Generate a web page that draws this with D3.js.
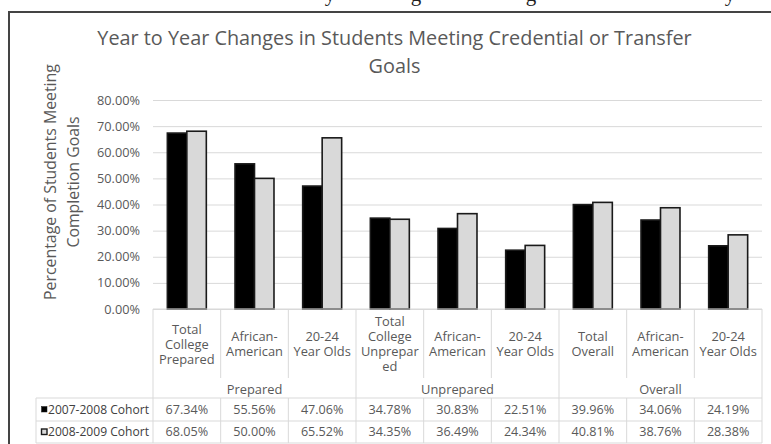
<!DOCTYPE html>
<html><head><meta charset="utf-8">
<script src="https://cdn.jsdelivr.net/npm/d3@7"></script>
<style>body{margin:0;background:#fff}svg{display:block}</style>
</head><body>
<script>
// ---- data ----
const titleLines = ["Year to Year Changes in Students Meeting Credential or Transfer", "Goals"];
const yTitleLines = ["Percentage of Students Meeting", "Completion Goals"];
const groups = ["Prepared", "Unprepared", "Overall"];
const groupSizes = [3, 3, 3];
const categories = ["Total\nCollege\nPrepared", "African-\nAmerican", "20-24\nYear Olds",
  "Total\nCollege\nUnprepar\ned", "African-\nAmerican", "20-24\nYear Olds",
  "Total\nOverall", "African-\nAmerican", "20-24\nYear Olds"];
const seriesNames = ["2007-2008 Cohort", "2008-2009 Cohort"];
const cohort2007 = [67.34, 55.56, 47.06, 34.78, 30.83, 22.51, 39.96, 34.06, 24.19];
const cohort2008 = [68.05, 50.00, 65.52, 34.35, 36.49, 24.34, 40.81, 38.76, 28.38];
const yTicks = [0, 10, 20, 30, 40, 50, 60, 70, 80];
const clippedTextAbove = ["y", "g", "g", "y"];

// ---- layout ----
const W = 771, H = 444;
const FONT = "'Open Sans', 'Noto Sans', sans-serif";
const L = {left: 153, right: 762, y0: 309, yTop: 100, frameX: 9, frameY: 12,
  tableLeft: 36, headerInnerEnd: 378, groupRowY: 389, rowTops: [398, 421], bottom: 443,
  labelCenterY: 344, lineH: 15};
const fragX = [330, 416, 531, 730];

const svg = d3.select("body").append("svg").attr("width", W).attr("height", H);

function measure(text, size, family) {
  const t = svg.append("text").attr("font-family", family).attr("font-size", size).text(text);
  const w = t.node().getComputedTextLength();
  t.remove();
  return w;
}
function fit(text, target, family = FONT) {
  return 100 * target / measure(text, 100, family);
}

const titleSize = fit(titleLines[0], 595);
const tickSize = fit("80.00%", 43);
const yTitleSize = fit(yTitleLines[0], 236);
const catSize = fit("American", 57);
const valSize = fit("67.34%", 42.6);
const legSize = fit(seriesNames[0], 101);

// clipped line of document text above the chart
svg.append("g").selectAll("text").data(clippedTextAbove).join("text")
  .attr("x", (d, i) => fragX[i]).attr("y", 1)
  .attr("text-anchor", "middle")
  .attr("font-family", "'Liberation Serif', serif").attr("font-size", 21)
  .attr("fill", "#222").text(d => d);

// frame
svg.append("rect").attr("x", L.frameX).attr("y", L.frameY)
  .attr("width", 900).attr("height", 900)
  .attr("fill", "#fff").attr("stroke", "#444").attr("stroke-width", 2);

// title
svg.append("g").selectAll("text").data(titleLines).join("text")
  .attr("x", 394.5).attr("y", (d, i) => 45 + i * 28)
  .attr("text-anchor", "middle").attr("font-family", FONT)
  .attr("font-size", titleSize).attr("fill", "#595959").text(d => d);

// scales
const x = d3.scaleBand().domain(d3.range(categories.length))
  .range([L.left, L.right]).paddingInner(0.424).paddingOuter(0.212);
const x1 = d3.scaleBand().domain([0, 1]).range([0, x.bandwidth()]);
const y = d3.scaleLinear().domain([0, 80]).range([L.y0, L.yTop]);

// gridlines + tick labels
const ax = svg.append("g").attr("transform", `translate(${L.left},0)`)
  .call(d3.axisLeft(y).tickValues(yTicks).tickSize(-(L.right - L.left)).tickPadding(13)
    .tickFormat(d => d3.format(".2f")(d) + "%"));
ax.select(".domain").remove();
ax.selectAll(".tick line").attr("stroke", "#d9d9d9").attr("stroke-width", 1);
ax.selectAll(".tick text").attr("font-family", FONT).attr("font-size", tickSize)
  .attr("fill", "#595959");

// y title
svg.append("g").selectAll("text").data(yTitleLines).join("text")
  .attr("transform", (d, i) => `translate(${50 + i * 23},182) rotate(-90)`)
  .attr("text-anchor", "middle").attr("dy", "0.35em")
  .attr("font-family", FONT).attr("font-size", yTitleSize).attr("fill", "#595959")
  .text(d => d);

// bars
const series = [cohort2007, cohort2008];
const fills = ["#000000", "#d9d9d9"];
series.forEach((vals, s) => {
  svg.append("g").selectAll("rect").data(vals).join("rect")
    .attr("x", (d, i) => x(i) + x1(s)).attr("y", d => y(d))
    .attr("width", x1.bandwidth()).attr("height", d => y(0) - y(d))
    .attr("fill", fills[s]).attr("stroke", "#1a1a1a").attr("stroke-width", 1.6);
});

// ---- data table ----
const tg = svg.append("g").attr("stroke", "#d9d9d9").attr("stroke-width", 1);
const hl = (x1_, x2_, yy) => tg.append("line").attr("x1", x1_).attr("x2", x2_).attr("y1", yy).attr("y2", yy);
const vl = (xx, y1_, y2_) => tg.append("line").attr("x1", xx).attr("x2", xx).attr("y1", y1_).attr("y2", y2_);
hl(L.left, L.right, L.y0);
hl(L.tableLeft, L.right, L.rowTops[0]);
hl(L.tableLeft, L.right, L.rowTops[1]);
hl(L.tableLeft, L.right, L.bottom);
vl(L.tableLeft, L.rowTops[0], L.bottom);
const step = x.step();
let acc = 0;
const groupEdges = [0];
groupSizes.forEach(g => { acc += g; groupEdges.push(acc); });
for (let i = 0; i <= categories.length; i++) {
  const xx = L.left + i * step;
  if (groupEdges.includes(i)) vl(xx, L.y0, L.bottom);
  else { vl(xx, L.y0, L.headerInnerEnd); vl(xx, L.rowTops[0], L.bottom); }
}

// category labels
categories.forEach((c, i) => {
  const lines = c.split("\n");
  const cx = x(i) + x.bandwidth() / 2;
  svg.append("g").selectAll("text").data(lines).join("text")
    .attr("x", cx)
    .attr("y", (d, k) => L.labelCenterY + (k - (lines.length - 1) / 2) * L.lineH)
    .attr("dy", "0.35em").attr("text-anchor", "middle")
    .attr("font-family", FONT).attr("font-size", catSize).attr("fill", "#595959")
    .text(d => d);
});

// group labels
groups.forEach((g, gi) => {
  const cx = L.left + (groupEdges[gi] + groupEdges[gi + 1]) / 2 * step;
  svg.append("text").attr("x", cx).attr("y", L.groupRowY).attr("dy", "0.35em")
    .attr("text-anchor", "middle").attr("font-family", FONT).attr("font-size", catSize)
    .attr("fill", "#595959").text(g);
});

// rows
const fmt = d => d3.format(".2f")(d) + "%";
series.forEach((vals, s) => {
  const top = L.rowTops[s];
  const bot = s === 0 ? L.rowTops[1] : L.bottom;
  const cy = (top + bot) / 2;
  svg.append("g").selectAll("text").data(vals).join("text")
    .attr("x", (d, i) => x(i) + x.bandwidth() / 2).attr("y", cy).attr("dy", "0.35em")
    .attr("text-anchor", "middle").attr("font-family", FONT).attr("font-size", valSize)
    .attr("fill", "#595959").text(fmt);
  svg.append("rect").attr("x", 41.5).attr("y", cy - 3)
    .attr("width", 5.5).attr("height", 5.5)
    .attr("fill", fills[s]).attr("stroke", "#1a1a1a").attr("stroke-width", s === 0 ? 0.5 : 1.4);
  svg.append("text").attr("x", 48).attr("y", cy).attr("dy", "0.35em")
    .attr("font-family", FONT).attr("font-size", legSize).attr("fill", "#404040")
    .text(seriesNames[s]);
});
</script>
</body></html>
